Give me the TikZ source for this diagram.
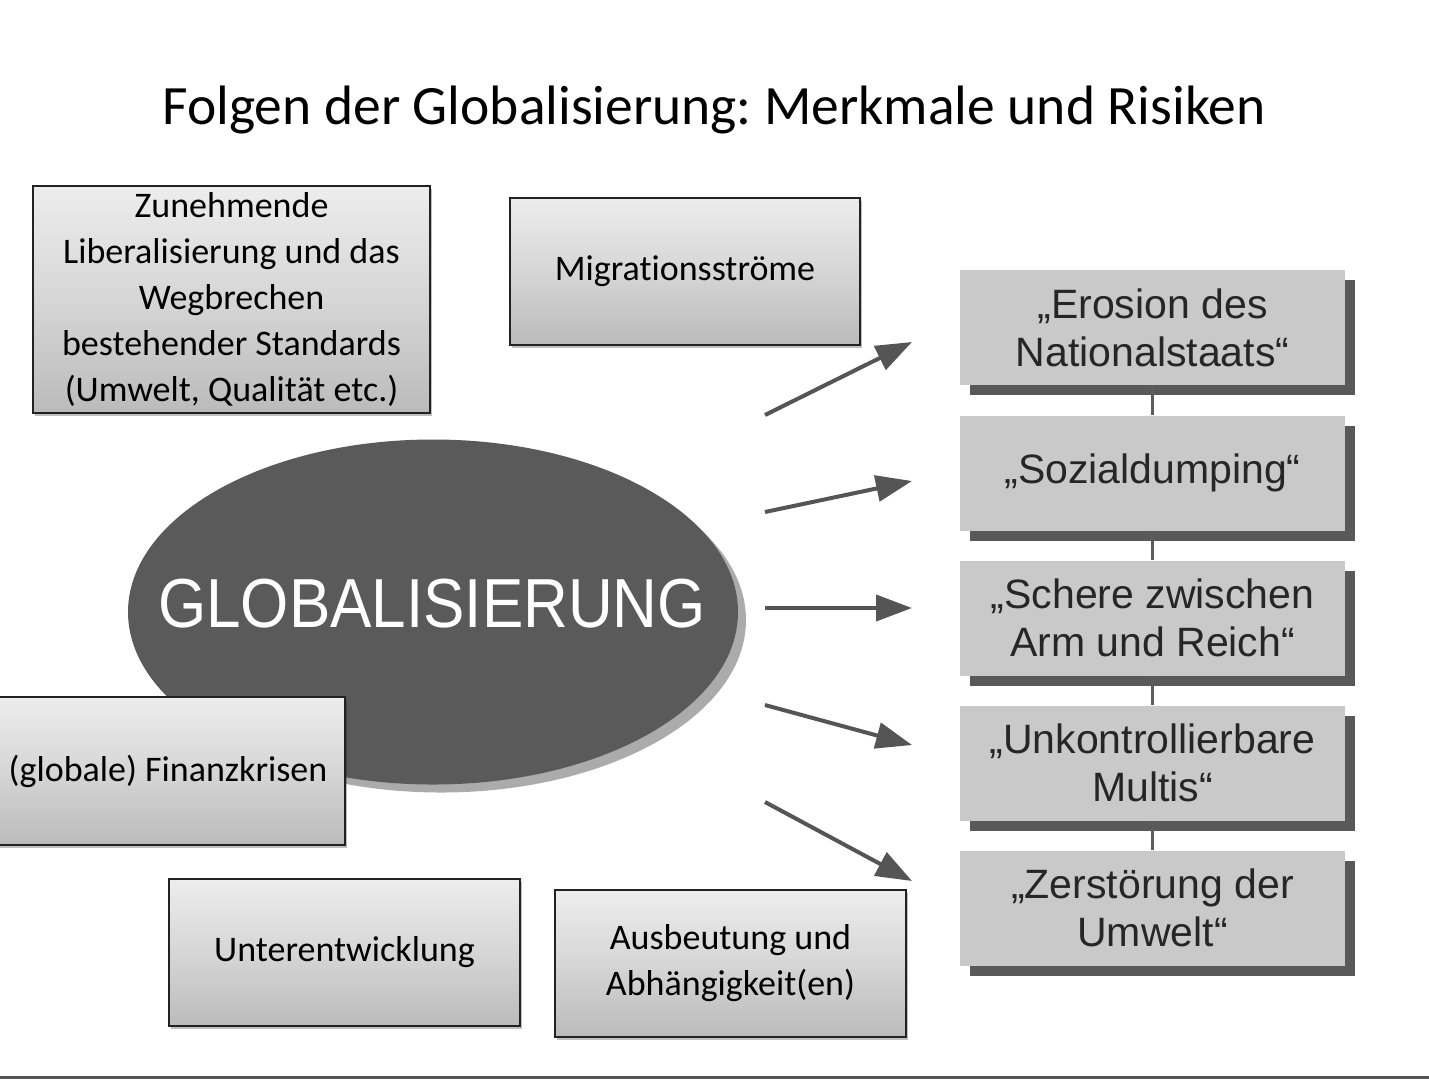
\documentclass[tikz,border=0pt]{standalone}
\usepackage{fontspec}
\setmainfont{Carlito}[Ligatures=NoCommon]
\newfontfamily\arialfont{Liberation Sans}
\usetikzlibrary{shapes.geometric,shadows,arrows.meta}
\definecolor{ellfill}{HTML}{5A5A5A}
\definecolor{ellshadow}{HTML}{ABABAB}
\definecolor{boxtop}{HTML}{EDEDED}
\definecolor{boxmid}{HTML}{D6D6D6}
\definecolor{boxbot}{HTML}{BBBBBB}
\definecolor{boxline}{HTML}{222222}
\definecolor{riskfill}{HTML}{C9C9C9}
\definecolor{riskshadow}{HTML}{595959}
\definecolor{risktext}{HTML}{262626}
\definecolor{arrowgray}{HTML}{555555}
\definecolor{linkgray}{HTML}{5C5C5C}
\frenchspacing
\begin{document}
\begin{tikzpicture}[x=1pt,y=-1pt,
  titletext/.style={font=\fontsize{55.5}{62}\selectfont, text=black, inner sep=0pt},
  leftbox/.style={draw=boxline, line width=1.3pt, top color=boxtop, bottom color=boxbot,
    middle color=boxmid, align=center, inner sep=0pt, text=black,
    font=\fontsize{36}{46}\selectfont,
    drop shadow={shadow xshift=1.5pt, shadow yshift=-3pt, opacity=0.25, fill=black}},
  riskbox/.style={fill=riskfill, draw=none, align=center, inner sep=0pt,
    minimum width=385pt, minimum height=115pt, text=risktext,
    font=\arialfont\fontsize{41}{48}\selectfont,
    drop shadow={shadow xshift=10pt, shadow yshift=-10pt, opacity=1, fill=riskshadow}},
  globell/.style={ellipse, fill=ellfill, minimum width=610pt, minimum height=345pt, inner sep=0pt,
    drop shadow={shadow xshift=8pt, shadow yshift=-8pt, opacity=1, fill=ellshadow}},
  bigarrow/.style={draw=arrowgray, line width=4pt, -{Triangle[length=36pt,width=26pt]}},
  riskline/.style={draw=linkgray, line width=3pt}
]
\useasboundingbox (0,0) rectangle (1429,1080);
\fill[white] (0,0) rectangle (1429,1080);

% title
\node[titletext] (title) at (714,110) {Folgen der Globalisierung: Merkmale und Risiken};

% central ellipse
\node[globell] (glob) at (433,612) {};
\node[font=\arialfont\fontsize{62}{62}\selectfont, text=white, inner sep=0pt] (globtext) at (432,604) {\scalebox{1}[1.12]{GLOBALISIERUNG}};

% left boxes
\node[leftbox, minimum width=397pt, minimum height=227pt] (libera) at (231.5,299.5)
  {Zunehmende\\Liberalisierung und das\\Wegbrechen\\bestehender Standards\\(Umwelt, Qualität etc.)};
\node[leftbox, minimum width=350pt, minimum height=147pt] (migra) at (685,271.5) {Migrationsströme};
\node[leftbox, minimum width=354pt, minimum height=148pt] (finanz) at (168,771) {(globale) Finanzkrisen};
\node[leftbox, minimum width=351pt, minimum height=147pt] (unter) at (344.5,952.5) {Unterentwicklung};
\node[leftbox, minimum width=351pt, minimum height=147pt] (ausb) at (730.5,963.5) {Ausbeutung und\\Abhängigkeit(en)};

% risk boxes
\node[riskbox] (r1) at (1152.5,327.5) {„Erosion des\\Nationalstaats“};
\node[riskbox] (r2) at (1152.5,473) {„Sozialdumping“};
\node[riskbox] (r3) at (1152.5,618) {„Schere zwischen\\Arm und Reich“};
\node[riskbox] (r4) at (1152.5,763) {„Unkontrollierbare\\Multis“};
\node[riskbox] (r5) at (1152.5,908) {„Zerstörung der\\Umwelt“};

\draw[riskline] (r1.south) -- (r2.north);
\draw[riskline] (r2.south) -- (r3.north);
\draw[riskline] (r3.south) -- (r4.north);
\draw[riskline] (r4.south) -- (r5.north);

% arrows
\coordinate (s1) at (765,415); \coordinate (e1) at (912,342);
\coordinate (s2) at (765,512); \coordinate (e2) at (912,481);
\coordinate (s3) at (765,608); \coordinate (e3) at (912,608);
\coordinate (s4) at (765,705); \coordinate (e4) at (912,745);
\coordinate (s5) at (765,802); \coordinate (e5) at (912,881);
\draw[bigarrow] (s1) -- (e1);
\draw[bigarrow] (s2) -- (e2);
\draw[bigarrow] (s3) -- (e3);
\draw[bigarrow] (s4) -- (e4);
\draw[bigarrow] (s5) -- (e5);

% bottom rule
\draw[line width=2.5pt, draw=arrowgray] (0,1077.5) -- (1429,1077.5);
\end{tikzpicture}
\end{document}
